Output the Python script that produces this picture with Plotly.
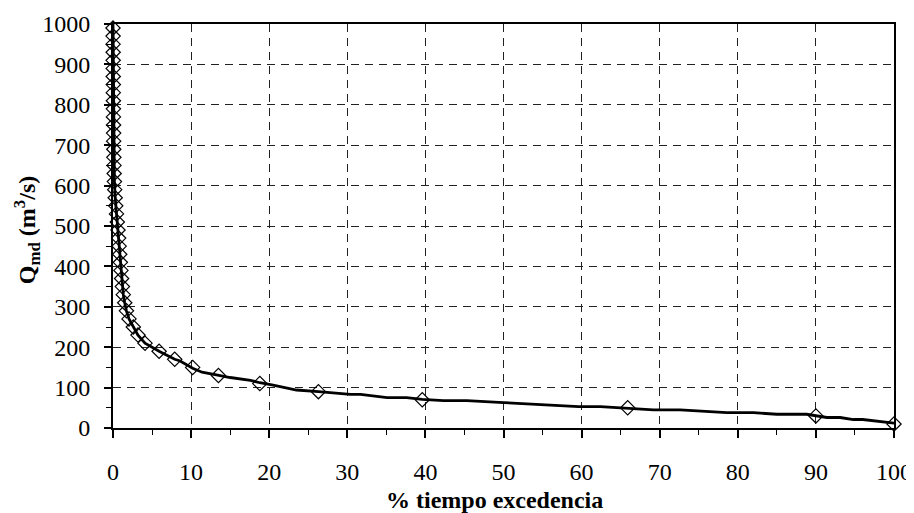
import plotly.graph_objects as go

# Marker points: % time exceeded and discharge
marker_pct = [0.00, 0.01, 0.01, 0.02, 0.02, 0.03, 0.03, 0.04, 0.04, 0.05,
              0.05, 0.06, 0.07, 0.08, 0.09, 0.10, 0.11, 0.13, 0.15, 0.18,
              0.22, 0.28, 0.35, 0.45, 0.55, 0.64, 0.72, 0.79, 0.86, 0.94,
              1.02, 1.10, 1.20, 1.32, 1.50, 1.72, 2.05, 2.60, 3.20, 4.10,
              5.90, 7.90, 10.2, 13.5, 18.8, 26.3, 39.6, 65.9, 90.0, 100.0]
marker_q = [990, 970, 950, 930, 910, 890, 870, 850, 830, 810,
            790, 770, 750, 730, 710, 690, 670, 650, 630, 610,
            590, 570, 550, 530, 510, 490, 470, 450, 430, 410,
            390, 370, 350, 330, 310, 290, 270, 250, 230, 210,
            190, 170, 150, 130, 110, 90, 70, 50, 30, 10]

# Continuous duration curve
line_pct = [0.00, 0.03, 0.05, 0.09, 0.13, 0.18, 0.28, 0.45, 0.64, 0.86,
            1.10, 1.32, 1.50, 1.72, 2.05, 2.60, 3.20, 4.10, 5.90, 7.90,
            8.6, 10.2, 11.4, 13.4, 15.0, 17.6, 18.8, 20.5, 23.5, 26.3,
            30.4, 31.7, 35.1, 37.6, 39.6, 42.3, 45.3, 50.0, 55.0, 59.6,
            62.4, 65.9, 69.2, 72.6, 78.6, 82.0, 85.0, 88.8, 90.0, 91.4,
            93.1, 94.8, 96.0, 100.0]
line_q = [1000, 880, 800, 700, 650, 610, 570, 530, 490, 430,
          370, 330, 310, 290, 270, 250, 230, 210, 190, 170,
          166, 148, 138, 131, 125, 118, 112, 106, 94, 90,
          83, 83, 75, 75, 71, 68, 68, 63, 58, 53,
          53, 49, 45, 45, 38, 38, 34, 34, 31, 26,
          26, 21, 21, 12]

x_ticks = [0, 10, 20, 30, 40, 50, 60, 70, 80, 90, 100]
y_ticks = [0, 100, 200, 300, 400, 500, 600, 700, 800, 900, 1000]

x_title = "<b>% tiempo excedencia</b>"
y_title = "<b>Q<sub>md</sub> (m<sup>3</sup>/s)</b>"

FONT = "Liberation Serif"

fig = go.Figure()
fig.add_trace(go.Scatter(x=line_pct, y=line_q, mode="lines",
                         line=dict(color="black", width=2.8),
                         hoverinfo="skip", showlegend=False))
fig.add_trace(go.Scatter(x=marker_pct, y=marker_q, mode="markers",
                         cliponaxis=False,
                         marker=dict(symbol="diamond-open", size=11,
                                     color="black", line=dict(width=1.2, color="black")),
                         showlegend=False))

grid = dict(showgrid=True, gridcolor="#222", gridwidth=1, griddash="8px,6px")

fig.update_xaxes(range=[0, 100], tickvals=x_ticks, ticktext=[str(v) for v in x_ticks],
                 showline=True, linecolor="black", linewidth=2, mirror=True,
                 ticks="outside", ticklen=8, tickwidth=1.5, tickcolor="black",
                 minor=dict(dtick=5, ticks="outside", ticklen=5, tickwidth=1.2,
                            tickcolor="black", showgrid=False),
                 ticklabelstandoff=13,
                 tickfont=dict(family=FONT, size=24, color="black"),
                 zeroline=False, **grid)
fig.update_yaxes(range=[0, 1000], tickvals=y_ticks, ticktext=[str(v) for v in y_ticks],
                 showline=True, linecolor="black", linewidth=2, mirror=True,
                 ticks="outside", ticklen=7, tickwidth=1.5, tickcolor="black",
                 minor=dict(dtick=50, ticks="outside", ticklen=5, tickwidth=1.2,
                            tickcolor="black", showgrid=False),
                 ticklabelstandoff=9,
                 tickfont=dict(family=FONT, size=24, color="black"),
                 zeroline=False, **grid)

fig.update_layout(
    width=906, height=505,
    margin=dict(l=105, r=20, t=16, b=85, autoexpand=False),
    paper_bgcolor="white", plot_bgcolor="white",
    font=dict(family=FONT, color="black"),
    annotations=[
        dict(text=x_title, xref="paper", yref="paper", x=0.489, y=-0.178,
             xanchor="center", yanchor="middle", showarrow=False,
             font=dict(family=FONT, size=24, color="black")),
        dict(text=y_title, xref="paper", yref="paper", x=-0.11, y=0.49,
             xanchor="center", yanchor="middle", showarrow=False, textangle=-90,
             font=dict(family=FONT, size=24, color="black")),
    ],
)

fig.write_html("out.html")
